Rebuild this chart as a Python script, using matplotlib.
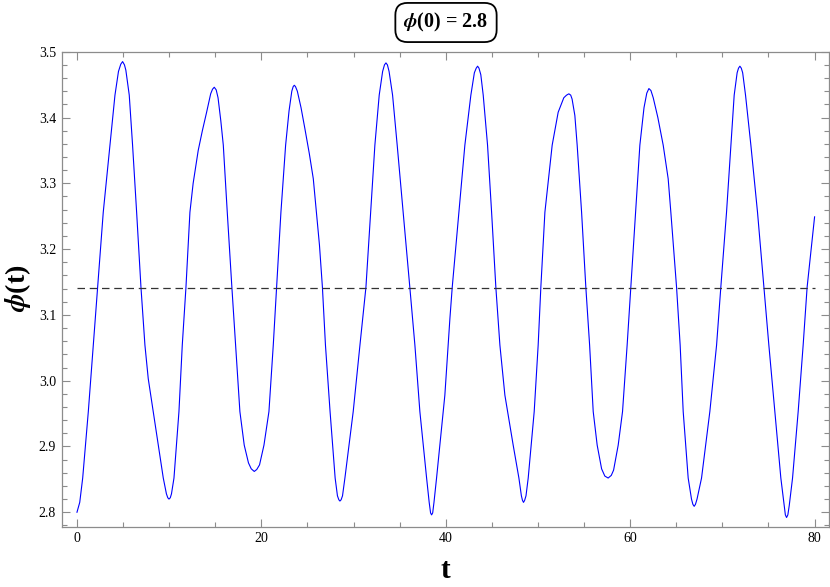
import numpy as np
import matplotlib.pyplot as plt
from matplotlib.ticker import MultipleLocator, FormatStrFormatter

# values
t_vals = [0.0, 0.3, 0.62, 1.23, 1.77, 2.24, 2.85, 3.58, 4.12, 4.5, 4.75, 4.95, 5.15, 5.3, 5.67, 6.03,
          6.47, 6.94, 7.37, 7.73, 8.27, 8.82, 9.36, 9.7, 9.85, 9.98, 10.12, 10.25, 10.52, 11.06, 11.42,
          11.82, 12.25, 12.6, 13.15, 13.6, 14.06, 14.5, 14.7, 14.89, 15.1, 15.3, 15.6, 15.87, 16.3,
          16.8, 17.2, 17.67, 18.14, 18.6, 18.9, 19.23, 19.5, 19.8, 20.28, 20.82, 21.29, 21.65,
          22.12, 22.63, 23.0, 23.3, 23.45, 23.57, 23.7, 23.9, 24.3, 24.72, 25.2, 25.63, 26.3, 26.62,
          26.95, 27.45, 28.0, 28.25, 28.4, 28.52, 28.65, 28.8, 29.06, 29.96, 30.69, 31.34, 31.85,
          32.31, 32.78, 33.15, 33.35, 33.51, 33.67, 33.85, 34.23, 34.73, 35.38, 36.1, 36.65, 37.19,
          37.92, 38.2, 38.35, 38.46, 38.58, 38.72, 39.0, 39.9, 40.45, 40.7, 41.42, 42.07, 42.72,
          43.1, 43.3, 43.45, 43.6, 43.8, 44.06, 44.53, 44.97, 45.43, 45.87, 46.41, 47.31, 47.93,
          48.2, 48.32, 48.43, 48.55, 48.7, 48.94, 49.59, 50.02, 50.31, 50.75, 51.54, 52.19, 52.8,
          53.1, 53.35, 53.55, 53.7, 54.0, 54.25, 54.73, 55.19, 55.6, 55.99, 56.42, 56.9, 57.25,
          57.61, 57.95, 58.2, 58.7, 59.17, 59.67, 60.07, 60.58, 61.05, 61.5, 61.8, 62.03, 62.25,
          62.5, 63.0, 63.58, 64.12, 64.41, 65.03, 65.42, 65.75, 66.29, 66.65, 66.8, 66.94, 67.08,
          67.25, 67.74, 68.64, 69.37, 69.83, 70.45, 70.92, 71.28, 71.6, 71.75, 71.9, 72.05, 72.2,
          72.51, 73.09, 73.81, 74.5, 75.04, 75.69, 76.34, 76.7, 76.83, 76.96, 77.1, 77.25, 77.61,
          78.22, 78.76, 79.19, 80.0]
phi_vals = [2.800, 2.815, 2.852, 2.953, 3.054, 3.142, 3.256, 3.358, 3.434, 3.470, 3.481, 3.485, 3.480, 3.472, 3.434, 3.358,
            3.256, 3.142, 3.054, 3.003, 2.953, 2.902, 2.852, 2.828, 2.822, 2.820, 2.822, 2.828, 2.852, 2.953, 3.054,
            3.142, 3.256, 3.300, 3.350, 3.380, 3.408, 3.436, 3.443, 3.446, 3.442, 3.430, 3.395, 3.358, 3.256,
            3.142, 3.054, 2.953, 2.902, 2.875, 2.866, 2.862, 2.865, 2.872, 2.902, 2.953, 3.054, 3.142,
            3.256, 3.358, 3.410, 3.440, 3.447, 3.449, 3.447, 3.440, 3.415, 3.383, 3.345, 3.307, 3.206, 3.142,
            3.054, 2.953, 2.852, 2.825, 2.819, 2.817, 2.819, 2.825, 2.852, 2.953, 3.054, 3.142, 3.256,
            3.358, 3.434, 3.470, 3.480, 3.483, 3.480, 3.470, 3.434, 3.358, 3.256, 3.142, 3.054, 2.953,
            2.852, 2.815, 2.799, 2.796, 2.799, 2.815, 2.852, 2.978, 3.095, 3.142, 3.256, 3.358, 3.434,
            3.468, 3.475, 3.478, 3.475, 3.465, 3.434, 3.358, 3.256, 3.142, 3.054, 2.978, 2.902, 2.852,
            2.825, 2.818, 2.815, 2.818, 2.825, 2.852, 2.953, 3.054, 3.142, 3.256, 3.358, 3.408, 3.430,
            3.434, 3.436, 3.434, 3.428, 3.403, 3.358, 3.256, 3.142, 3.054, 2.953, 2.902, 2.866, 2.855,
            2.852, 2.856, 2.864, 2.902, 2.953, 3.054, 3.142, 3.256, 3.358, 3.415, 3.437, 3.444, 3.441,
            3.430, 3.400, 3.358, 3.307, 3.256, 3.142, 3.054, 2.953, 2.852, 2.820, 2.812, 2.809, 2.812,
            2.820, 2.852, 2.953, 3.054, 3.142, 3.256, 3.358, 3.434, 3.468, 3.475, 3.478, 3.475, 3.468,
            3.434, 3.358, 3.256, 3.142, 3.054, 2.953, 2.852, 2.810, 2.796, 2.792, 2.796, 2.810, 2.852,
            2.953, 3.054, 3.142, 3.249]
x_ticks = [0, 20, 40, 60, 80]
phi_ref = np.pi

plt.rcParams['font.family'] = ['Liberation Serif', 'DejaVu Serif']
plt.rcParams['mathtext.fontset'] = 'stix'
plt.rcParams['xtick.direction'] = 'in'
plt.rcParams['ytick.direction'] = 'in'

frame = '#8c8c8c'

fig = plt.figure(figsize=(8.3, 5.87), dpi=100)
ax = fig.add_axes([0.0743, 0.1027, 0.9249, 0.8092])

ax.plot(t_vals, phi_vals, color='#0000ff', lw=0.8)
ax.plot([t_vals[0], t_vals[-1]], [phi_ref, phi_ref], color='#333333', lw=0.9, dashes=(6, 3.8))

ax.set_xlim(-1.66, 81.6)
ax.set_ylim(2.778, 3.5)

ax.set_xticks(x_ticks)
ax.xaxis.set_minor_locator(MultipleLocator(5))
ax.yaxis.set_major_locator(MultipleLocator(0.1))
ax.yaxis.set_minor_locator(MultipleLocator(0.02))
ax.yaxis.set_major_formatter(FormatStrFormatter('%.1f'))
ax.tick_params(which='both', top=True, right=True, color=frame, width=0.8,
               labelsize=10, pad=4)
ax.tick_params(which='major', length=6)
ax.tick_params(which='minor', length=3.5)
for s in ax.spines.values():
    s.set_color(frame)
    s.set_linewidth(0.9)

fig.text(18 / 830, 1 - 288 / 587, r'$\mathbfit{\phi}$(t)', rotation=90, fontsize=20,
         fontweight='bold', ha='center', va='center')
fig.text(445.5 / 830, 1 - 571 / 587, 't', fontsize=21, fontweight='bold',
         ha='center', va='center')
fig.text(446 / 830, 1 - 22.5 / 587, r'$\mathbfit{\phi}$(0) = 2.8', fontsize=14.5,
         fontweight='bold', ha='center', va='center',
         bbox=dict(boxstyle='round,pad=0.4,rounding_size=0.6', fc='white', ec='black', lw=1.3))

fig.savefig('out.png', dpi=100)
plt.close()
